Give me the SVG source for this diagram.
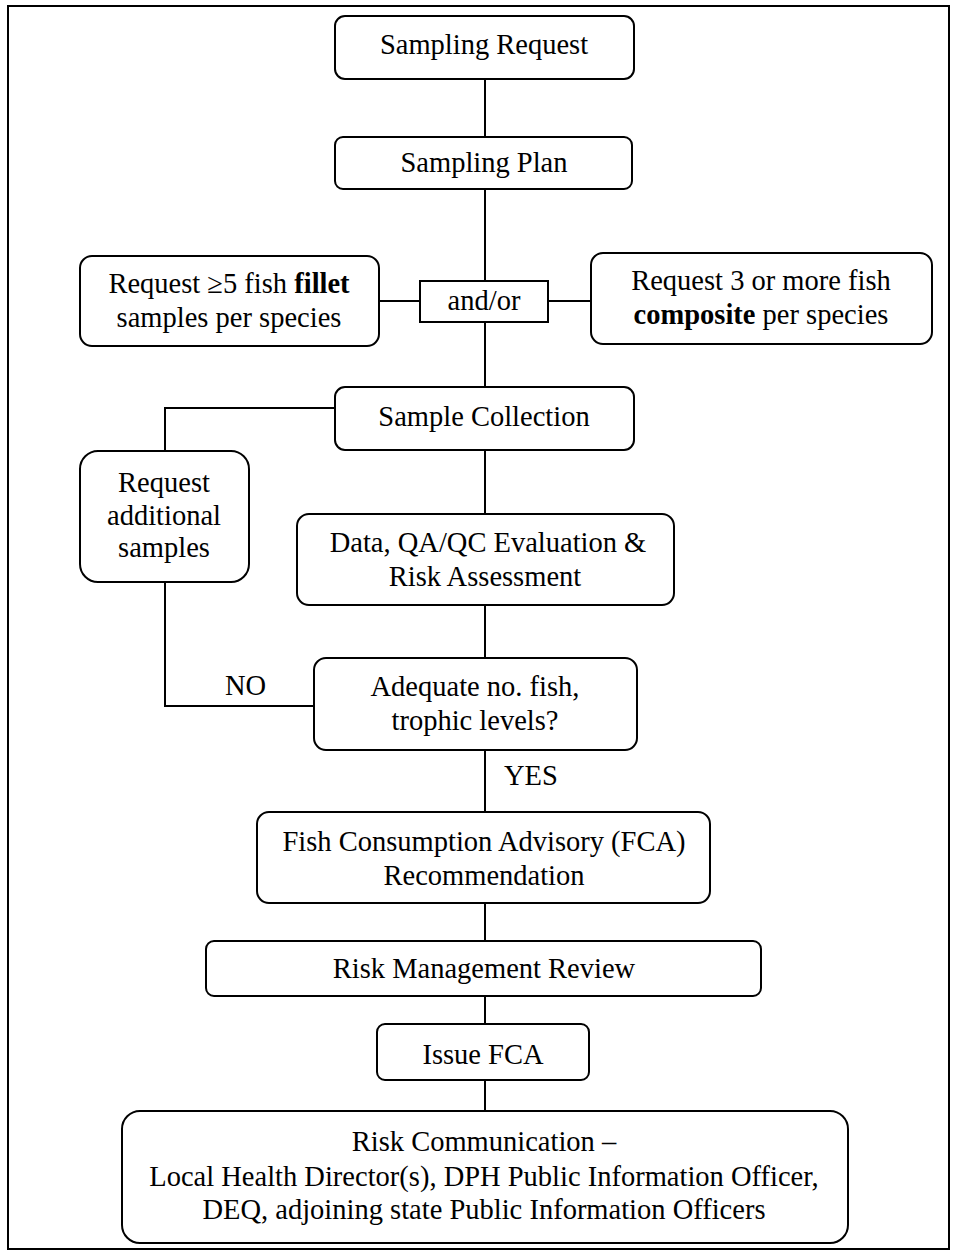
<svg xmlns="http://www.w3.org/2000/svg" width="956" height="1253" viewBox="0 0 956 1253">
<style>
.box{fill:#fff;stroke:#000;stroke-width:2}
.ln{stroke:#000;stroke-width:2;fill:none}
text{font-family:"Liberation Serif","Times New Roman",serif;font-size:28.5px;fill:#000;text-anchor:middle}
.lbl{text-anchor:start}
</style>
<rect x="0" y="0" width="956" height="1253" fill="#fff"/>
<rect x="8" y="6" width="941" height="1243" fill="none" stroke="#000" stroke-width="2"/>
<g id="connectors">
<path class="ln" d="M485 79V137M485 189V281M485 322V387M485 450V514M485 605V658M485 750V812M485 903V941M485 996V1024M485 1080V1111"/>
<path class="ln" d="M379 301H420M548 301H591"/>
<path class="ln" d="M335 408H165V451M165 582V706H314"/>
<text class="lbl" x="225" y="695">NO</text>
<text class="lbl" x="504" y="785">YES</text>
</g>
<g id="n1"><rect class="box" x="335" y="16" width="299" height="63" rx="10"/><text x="484" y="54">Sampling Request</text></g>
<g id="n2"><rect class="box" x="335" y="137" width="297" height="52" rx="8"/><text x="484" y="172">Sampling Plan</text></g>
<g id="n3"><rect class="box" x="80" y="256" width="299" height="90" rx="12"/><text x="229" y="293">Request ≥5 fish <tspan font-weight="bold">fillet</tspan></text><text x="229" y="327">samples per species</text></g>
<g id="n4"><rect class="box" x="420" y="281" width="128" height="41"/><text x="484" y="310">and/or</text></g>
<g id="n5"><rect class="box" x="591" y="253" width="341" height="91" rx="12"/><text x="761" y="290">Request 3 or more fish</text><text x="761" y="324"><tspan font-weight="bold">composite</tspan> per species</text></g>
<g id="n6"><rect class="box" x="335" y="387" width="299" height="63" rx="10"/><text x="484" y="426">Sample Collection</text></g>
<g id="n7"><rect class="box" x="80" y="451" width="169" height="131" rx="18"/><text x="164" y="492">Request</text><text x="164" y="525">additional</text><text x="164" y="557">samples</text></g>
<g id="n8"><rect class="box" x="297" y="514" width="377" height="91" rx="12"/><text x="488" y="552">Data, QA/QC Evaluation &amp;</text><text x="485" y="586">Risk Assessment</text></g>
<g id="n9"><rect class="box" x="314" y="658" width="323" height="92" rx="12"/><text x="475" y="696">Adequate no. fish,</text><text x="475" y="730">trophic levels?</text></g>
<g id="n10"><rect class="box" x="257" y="812" width="453" height="91" rx="12"/><text x="484" y="851">Fish Consumption Advisory (FCA)</text><text x="484" y="885">Recommendation</text></g>
<g id="n11"><rect class="box" x="206" y="941" width="555" height="55" rx="8"/><text x="484" y="978">Risk Management Review</text></g>
<g id="n12"><rect class="box" x="377" y="1024" width="212" height="56" rx="8"/><text x="483" y="1064">Issue FCA</text></g>
<g id="n13"><rect class="box" x="122" y="1111" width="726" height="132" rx="18"/><text x="484" y="1151">Risk Communication –</text><text x="484" y="1186">Local Health Director(s), DPH Public Information Officer,</text><text x="484" y="1219">DEQ, adjoining state Public Information Officers</text></g>
</svg>
